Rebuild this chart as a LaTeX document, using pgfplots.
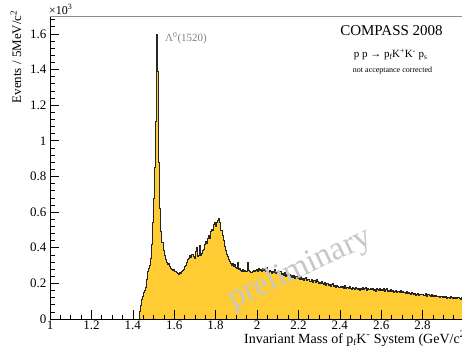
\documentclass[border=0pt]{standalone}
\usepackage{fontspec}
\setmainfont{Liberation Serif}
\usepackage{pgfplots}
\pgfplotsset{compat=1.18}
\definecolor{histfill}{RGB}{255,204,51}
\begin{document}
\begin{tikzpicture}
\begin{axis}[
 at={(0,0)}, anchor=south west,
 scale only axis, width=414pt, height=303pt,
 xmin=1, xmax=3, ymin=0, ymax=1700,
 axis x line=bottom, axis y line=left, axis line style={-, line width=0.8pt},
 xtick={1,1.2,1.4,1.6,1.8,2,2.2,2.4,2.6,2.8},
 xticklabels={1,1.2,1.4,1.6,1.8,2,2.2,2.4,2.6,2.8},
 minor xtick={1.05,1.1,1.15,1.25,1.3,1.35,1.45,1.5,1.55,1.65,1.7,1.75,1.85,1.9,1.95,2.05,2.1,2.15,2.25,2.3,2.35,2.45,2.5,2.55,2.65,2.7,2.75,2.85,2.9,2.95},
 ytick={0,200,400,600,800,1000,1200,1400,1600},
 yticklabels={0,0.2,0.4,0.6,0.8,1,1.2,1.4,1.6},
 minor ytick={40,80,120,160,240,280,320,360,440,480,520,560,640,680,720,760,840,880,920,960,1040,1080,1120,1160,1240,1280,1320,1360,1440,1480,1520,1560,1640,1680},
 tick align=inside, major tick length=9pt, minor tick length=4.5pt,
 tick style={line width=0.6pt, black},
 /pgf/number format/assume math mode=true,
 ticklabel style={font=\fontsize{13}{15}\selectfont},
 xticklabel style={yshift=2pt},
 axis on top,
 clip=false,
]
\addplot[const plot mark left, fill=histfill, draw=black!85, line width=0.6pt] coordinates {
(1.430,45)(1.435,75)(1.440,110)(1.445,125)(1.450,150)(1.455,160)(1.460,180)(1.465,225)(1.470,265)(1.475,285)
(1.480,300)(1.485,340)(1.490,420)(1.495,540)(1.500,680)(1.505,850)(1.510,1110)(1.515,1600)(1.520,1390)(1.525,880)
(1.530,620)(1.535,490)(1.540,430)(1.545,385)(1.550,360)(1.555,335)(1.560,320)(1.565,305)(1.570,310)(1.575,295)
(1.580,285)(1.585,280)(1.590,272)(1.595,278)(1.600,265)(1.605,270)(1.610,260)(1.615,255)(1.620,252)(1.625,262)
(1.630,255)(1.635,268)(1.640,275)(1.645,280)(1.650,295)(1.655,300)(1.660,320)(1.665,335)(1.670,340)(1.675,355)
(1.680,345)(1.685,365)(1.690,350)(1.695,340)(1.700,380)(1.705,405)(1.710,350)(1.715,360)(1.720,415)(1.725,355)
(1.730,370)(1.735,385)(1.740,390)(1.745,420)(1.750,435)(1.755,425)(1.760,455)(1.765,470)(1.770,455)(1.775,490)
(1.780,505)(1.785,495)(1.790,530)(1.795,545)(1.800,520)(1.805,540)(1.810,555)(1.815,565)(1.820,545)(1.825,500)
(1.830,470)(1.835,440)(1.840,410)(1.845,385)(1.850,365)(1.855,350)(1.860,335)(1.865,322)(1.870,315)(1.875,300)
(1.880,310)(1.885,295)(1.890,305)(1.895,290)(1.900,285)(1.905,320)(1.910,280)(1.915,285)(1.920,275)(1.925,270)
(1.930,280)(1.935,265)(1.940,275)(1.945,270)(1.950,270)(1.955,320)(1.960,272)(1.965,268)(1.970,262)(1.975,270)
(1.980,275)(1.985,265)(1.990,272)(1.995,278)(2.000,270)(2.005,283)(2.010,275)(2.015,280)(2.020,268)(2.025,285)
(2.030,272)(2.035,278)(2.040,265)(2.045,290)(2.050,270)(2.055,262)(2.060,275)(2.065,268)(2.070,258)(2.075,270)
(2.080,262)(2.085,280)(2.090,255)(2.095,260)
(2.100,262)(2.105,255)(2.110,268)(2.115,250)(2.120,258)(2.125,247)(2.130,262)(2.135,240)(2.140,252)(2.145,245)
(2.150,240)(2.155,250)(2.160,236)(2.165,245)(2.170,232)(2.175,248)(2.180,228)(2.185,238)(2.190,242)(2.195,230)
(2.200,235)(2.205,225)(2.210,240)(2.215,222)(2.220,230)(2.225,218)(2.230,228)(2.235,232)(2.240,215)(2.245,225)
(2.250,220)(2.255,212)(2.260,225)(2.265,208)(2.270,218)(2.275,215)(2.280,205)(2.285,222)(2.290,210)(2.295,200)
(2.300,208)(2.305,198)(2.310,212)(2.315,200)(2.320,195)(2.325,205)(2.330,190)(2.335,200)(2.340,198)(2.345,188)
(2.350,195)(2.355,185)(2.360,192)(2.365,200)(2.370,182)(2.375,190)(2.380,178)(2.385,188)(2.390,185)(2.395,180)
(2.400,185)(2.405,178)(2.410,182)(2.415,175)(2.420,190)(2.425,172)(2.430,180)(2.435,176)(2.440,170)(2.445,182)
(2.450,175)(2.455,168)(2.460,178)(2.465,172)(2.470,165)(2.475,180)(2.480,170)(2.485,168)(2.490,175)(2.495,162)
(2.500,172)(2.505,168)(2.510,176)(2.515,165)(2.520,170)(2.525,180)(2.530,162)(2.535,172)(2.540,168)(2.545,175)
(2.550,165)(2.555,170)(2.560,160)(2.565,168)(2.570,158)(2.575,172)(2.580,165)(2.585,160)(2.590,170)(2.595,162)
(2.600,168)(2.605,160)(2.610,172)(2.615,158)(2.620,165)(2.625,170)(2.630,155)(2.635,162)(2.640,158)(2.645,165)
(2.650,155)(2.655,162)(2.660,150)(2.665,158)(2.670,160)(2.675,148)(2.680,155)(2.685,152)(2.690,160)(2.695,150)
(2.700,155)(2.705,148)(2.710,152)(2.715,145)(2.720,158)(2.725,142)(2.730,150)(2.735,146)(2.740,140)(2.745,148)
(2.750,142)(2.755,138)(2.760,145)(2.765,135)(2.770,140)(2.775,144)(2.780,132)(2.785,140)(2.790,138)(2.795,136)
(2.800,140)(2.805,135)(2.810,132)(2.815,142)(2.820,130)(2.825,138)(2.830,134)(2.835,128)(2.840,136)(2.845,130)
(2.850,132)(2.855,128)(2.860,135)(2.865,125)(2.870,130)(2.875,128)(2.880,122)(2.885,130)(2.890,126)(2.895,124)
(2.900,126)(2.905,120)(2.910,128)(2.915,118)(2.920,124)(2.925,122)(2.930,115)(2.935,125)(2.940,120)(2.945,118)
(2.950,122)(2.955,116)(2.960,120)(2.965,114)(2.970,124)(2.975,118)(2.980,112)(2.985,120)(2.990,116)(2.995,118)
(3.000,118)
} \closedcycle;
\end{axis}
\draw[black!45, line width=0.8pt] (0,303pt) -- (414pt,303pt);
\node[anchor=base west, inner sep=0pt, font=\fontsize{12}{14}\selectfont] at (-1pt,305pt) {×10\textsuperscript{3}};
\node[rotate=90, anchor=east, inner sep=0pt, font=\fontsize{13}{15}\selectfont] at (-34pt,309pt) {Events / 5MeV/c\textsuperscript{2}};
\node[anchor=base east, inner sep=0pt, font=\fontsize{14}{16}\selectfont] at (420pt,-24pt) {Invariant Mass of p\raisebox{-0.45ex}{\fontsize{9}{10}\selectfont f}K\textsuperscript{-} System (GeV/c\textsuperscript{2})};
\node[anchor=base, inner sep=0pt, font=\fontsize{15}{18}\selectfont] at (341.5pt,284pt) {COMPASS 2008};
\node[anchor=base, inner sep=0pt, font=\fontsize{11}{13}\selectfont] at (340.5pt,262pt) {p p → p\raisebox{-0.45ex}{\fontsize{7.5}{9}\selectfont f}K\textsuperscript{+}K\textsuperscript{-} p\raisebox{-0.45ex}{\fontsize{7.5}{9}\selectfont s}};
\node[anchor=base, inner sep=0pt, font=\fontsize{8}{10}\selectfont] at (342.5pt,247pt) {not acceptance corrected};
\node[anchor=base west, inner sep=0pt, text=black!50, font=\fontsize{11}{13}\selectfont] at (115pt,278pt) {Λ\textsuperscript{0}(1520)};
\node[rotate=25, text=black!22, inner sep=0pt, font=\fontsize{33}{36}\selectfont] at (250pt,50pt) {preliminary};
\pgfresetboundingbox
\path[use as bounding box] (-50pt,-30pt) rectangle (412pt,319pt);
\end{tikzpicture}
\end{document}
